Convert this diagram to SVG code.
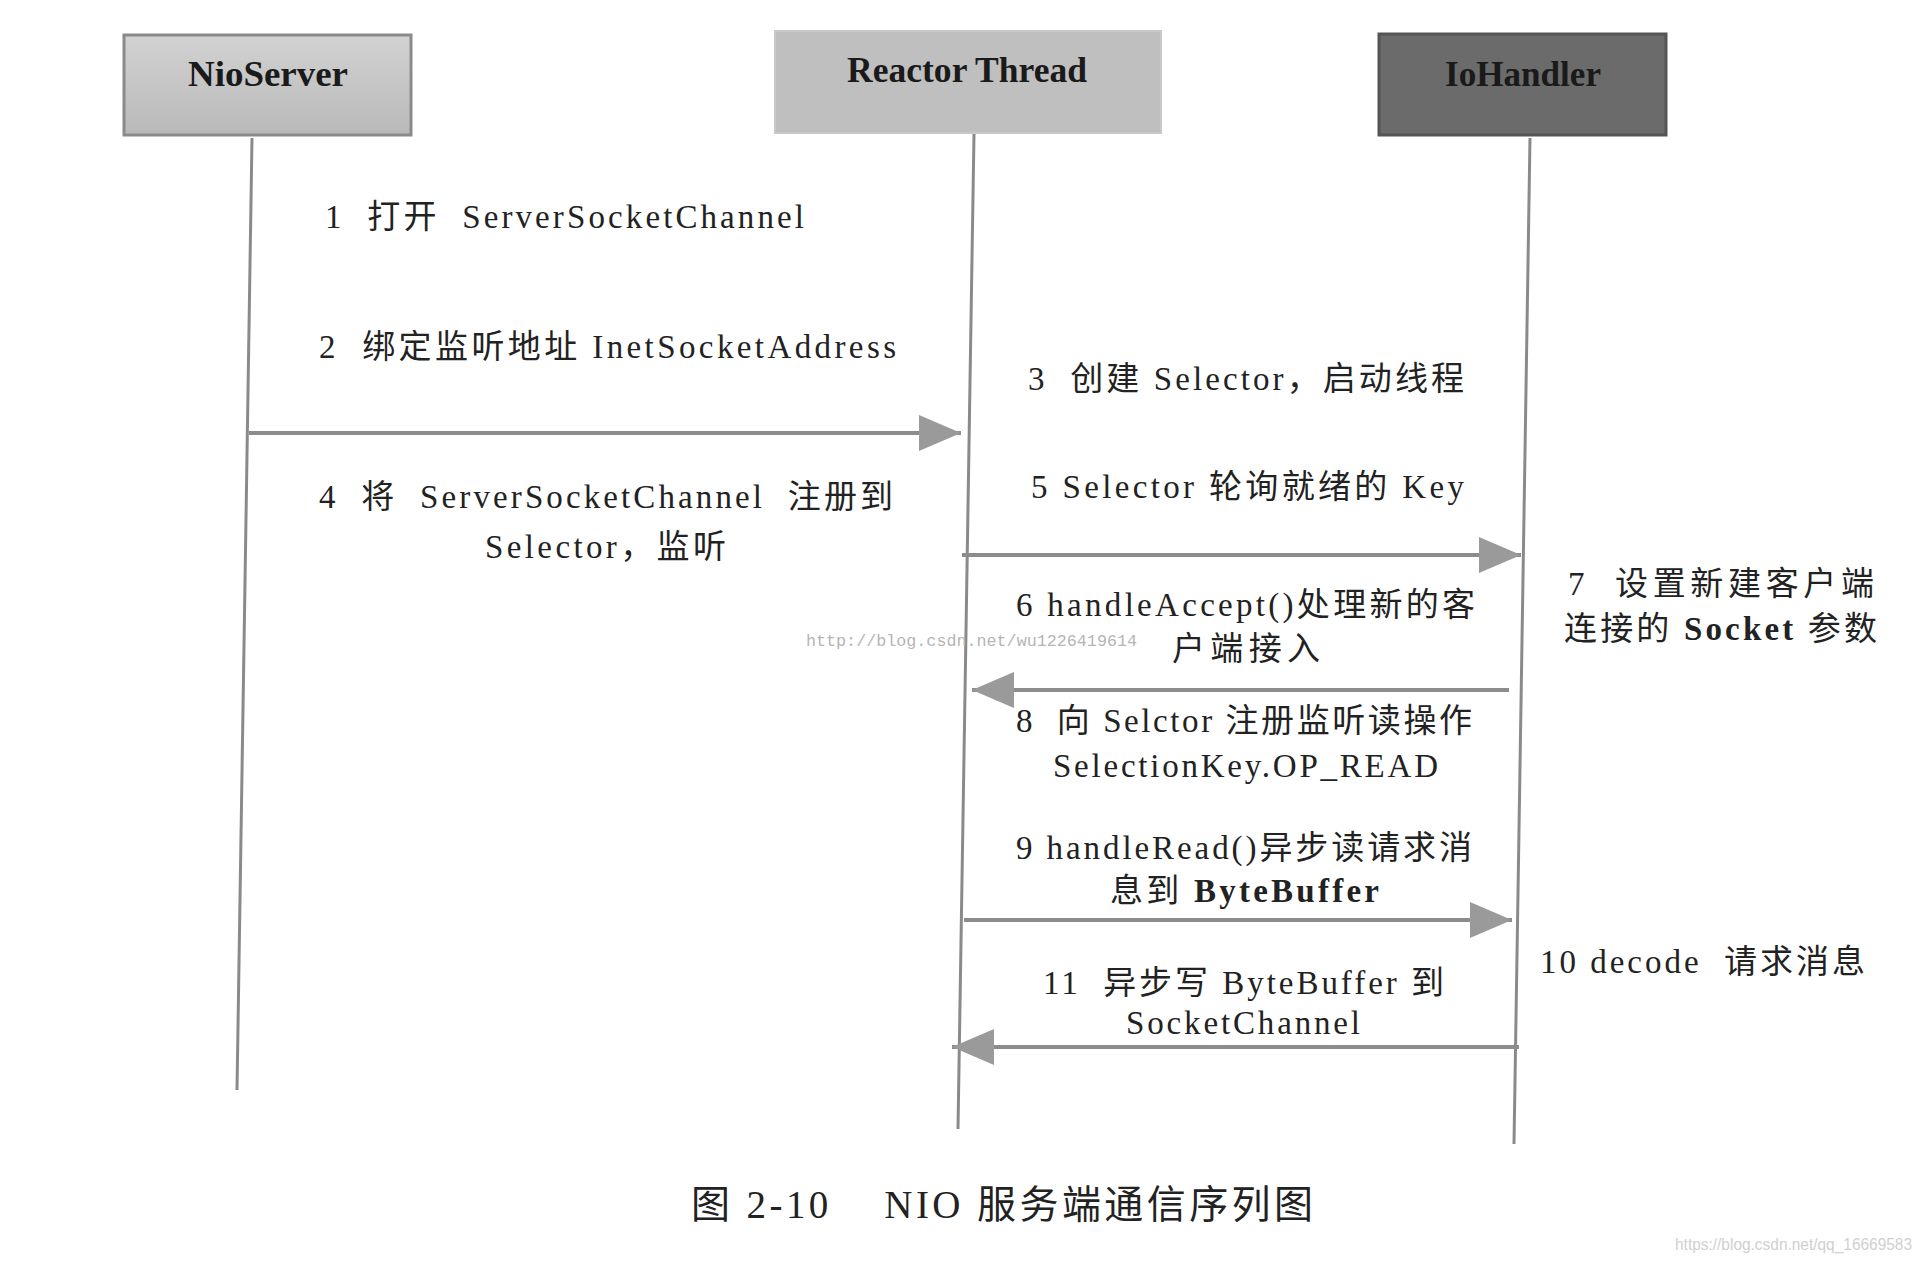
<svg xmlns="http://www.w3.org/2000/svg" width="1924" height="1264" viewBox="0 0 1924 1264">
<style>
.box-t{font-family:"Liberation Serif","Noto Sans CJK SC",serif;font-size:35px;font-weight:bold;fill:#1a1a1a}
.lbl{font-family:"Liberation Serif","Noto Sans CJK SC",serif;font-size:33px;fill:#222;white-space:pre}
.life{stroke:#8a8a8a;stroke-width:3;fill:none}
.msg{stroke:#8c8c8c;stroke-width:4;fill:none;marker-end:url(#ah)}
.b{font-weight:bold}
</style>
<defs>
<marker id="ah" markerUnits="userSpaceOnUse" markerWidth="44" markerHeight="40" refX="42" refY="20" orient="auto">
<path d="M0,2 L42,20 L0,38 Z" fill="#9a9a9a"/>
</marker>
<linearGradient id="g1" x1="0" y1="0" x2="0" y2="1"><stop offset="0" stop-color="#d2d2d2"/><stop offset="1" stop-color="#b9b9b9"/></linearGradient>
</defs>
<rect width="1924" height="1264" fill="#fff"/>
<g id="nioserver">
<rect x="124" y="35" width="287" height="100" fill="url(#g1)" stroke="#8a8a8a" stroke-width="3"/>
<text class="box-t" x="188" y="86" textLength="160" lengthAdjust="spacingAndGlyphs">NioServer</text>
</g>
<g id="reactor">
<rect x="775" y="31" width="386" height="102" fill="#bfbfbf" stroke="#c8c8c8" stroke-width="2"/>
<text class="box-t" x="847" y="82" textLength="240" lengthAdjust="spacingAndGlyphs">Reactor Thread</text>
</g>
<g id="iohandler">
<rect x="1379" y="34" width="287" height="101" fill="#6b6b6b" stroke="#555" stroke-width="3"/>
<text class="box-t" x="1445" y="86" textLength="156" lengthAdjust="spacingAndGlyphs">IoHandler</text>
</g>
<g id="lifelines">
<line class="life" x1="252" y1="138" x2="237" y2="1090"/>
<line class="life" x1="974" y1="134" x2="958" y2="1129"/>
<line class="life" x1="1530" y1="138" x2="1514" y2="1144"/>
</g>
<g id="connectors">
<line class="msg" x1="249" y1="433" x2="961" y2="433"/>
<line class="msg" x1="962" y1="555" x2="1521" y2="555"/>
<line class="msg" x1="1509" y1="690" x2="972" y2="690"/>
<line class="msg" x1="964" y1="920" x2="1512" y2="920"/>
<line class="msg" x1="1519" y1="1047" x2="952" y2="1047"/>
</g>
<g id="labels">
<text class="lbl" x="325" y="228" textLength="479" lengthAdjust="spacing">1  打开  ServerSocketChannel</text>
<text class="lbl" x="319" y="358" textLength="577" lengthAdjust="spacing">2  绑定监听地址 InetSocketAddress</text>
<text class="lbl" x="1028" y="390" textLength="436" lengthAdjust="spacing">3  创建 Selector，启动线程</text>
<text class="lbl" x="319" y="508" textLength="574" lengthAdjust="spacing">4  将  ServerSocketChannel  注册到</text>
<text class="lbl" x="485" y="558" textLength="241" lengthAdjust="spacing">Selector，监听</text>
<text class="lbl" x="1031" y="498" textLength="433" lengthAdjust="spacing">5 Selector 轮询就绪的 Key</text>
<text class="lbl" x="1016" y="616" textLength="459" lengthAdjust="spacing">6 handleAccept()处理新的客</text>
<text class="lbl" x="1172" y="660" textLength="148" lengthAdjust="spacing">户端接入</text>
<text class="lbl" x="1568" y="595" textLength="306" lengthAdjust="spacing">7  设置新建客户端</text>
<text class="lbl" x="1564" y="640" textLength="313" lengthAdjust="spacing">连接的 <tspan class="b">Socket</tspan> 参数</text>
<text class="lbl" x="1016" y="732" textLength="456" lengthAdjust="spacing">8  向 Selctor 注册监听读操作</text>
<text class="lbl" x="1053" y="777" textLength="385" lengthAdjust="spacing">SelectionKey.OP_READ</text>
<text class="lbl" x="1016" y="859" textLength="456" lengthAdjust="spacing">9 handleRead()异步读请求消</text>
<text class="lbl" x="1110" y="902" textLength="269" lengthAdjust="spacing">息到 <tspan class="b">ByteBuffer</tspan></text>
<text class="lbl" x="1540" y="973" textLength="325" lengthAdjust="spacing">10 decode  请求消息</text>
<text class="lbl" x="1043" y="994" textLength="401" lengthAdjust="spacing">11  异步写 ByteBuffer 到</text>
<text class="lbl" x="1126" y="1034" textLength="234" lengthAdjust="spacing">SocketChannel</text>
</g>
<text x="691" y="1218" font-family="'Liberation Serif','Noto Sans CJK SC',serif" font-size="39" fill="#222" style="white-space:pre" textLength="622" lengthAdjust="spacing">图 2-10    NIO 服务端通信序列图</text>
<text x="806" y="646" font-family="'Liberation Mono',monospace" font-size="17" fill="#b5b5b5" textLength="331" lengthAdjust="spacingAndGlyphs">http://blog.csdn.net/wu1226419614</text>
<text x="1675" y="1250" font-family="'Liberation Sans',sans-serif" font-size="16" fill="#d0d0d0" textLength="237" lengthAdjust="spacingAndGlyphs">https://blog.csdn.net/qq_16669583</text>
</svg>
